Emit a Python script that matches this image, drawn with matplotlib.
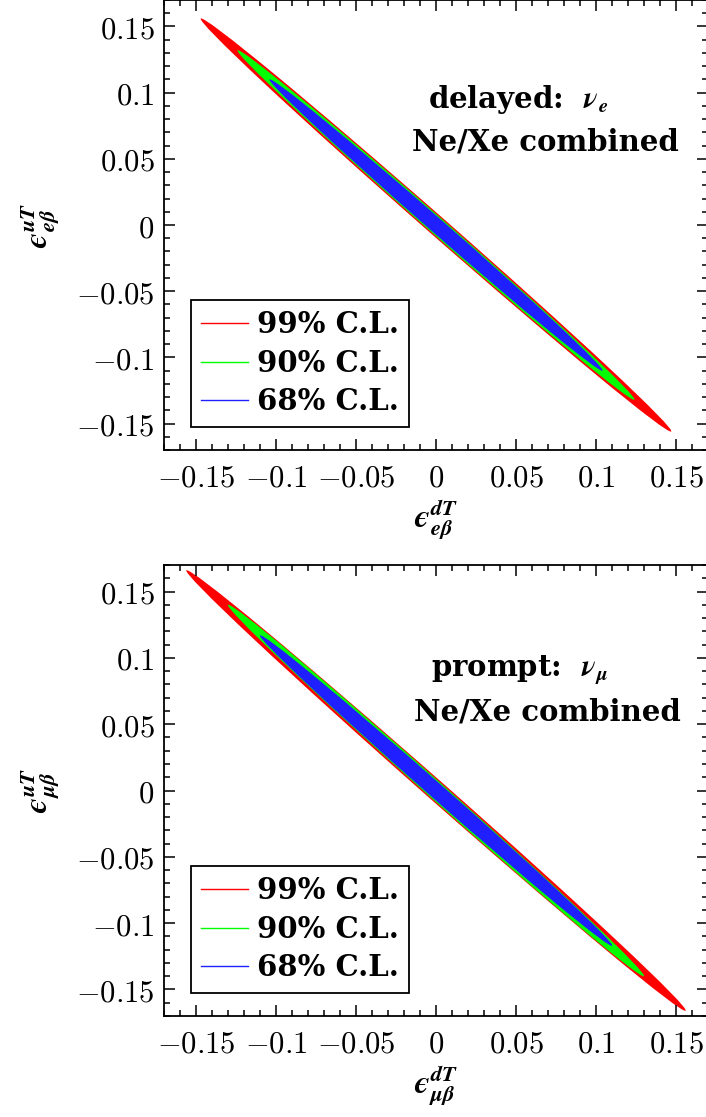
import numpy as np
import matplotlib
matplotlib.use('Agg')
from matplotlib import pyplot, ticker
from matplotlib.patches import Ellipse
from matplotlib.lines import Line2D

# confidence regions, outermost first
cl_labels = ['99% C.L.', '90% C.L.', '68% C.L.']
cl_colors = ['#ff0000', '#00ff00', '#1f1fff']

# delayed nu_e : lower-right tip of each region and vertical half-width at the origin
delayed_tip_dT = [0.147, 0.124, 0.104]
delayed_tip_uT = [-0.156, -0.132, -0.110]
delayed_halfwidth = [0.0097, 0.0085, 0.0073]

# prompt nu_mu
prompt_tip_dT = [0.156, 0.130, 0.110]
prompt_tip_uT = [-0.166, -0.140, -0.117]
prompt_halfwidth = [0.0100, 0.0088, 0.0076]

tick_values = [-0.15, -0.1, -0.05, 0, 0.05, 0.1, 0.15]

pyplot.rcParams['mathtext.fontset'] = 'cm'
pyplot.rcParams['font.family'] = ['DejaVu Serif']

TICKFS = 22
TEXTFS = 21


def region(tip_x, tip_y, h, color):
    # ellipse through the two tips, with the given vertical half-width at x=0
    a = np.hypot(tip_x, tip_y)
    theta = np.arctan2(tip_y, tip_x)
    b = np.cos(theta) / np.sqrt(1.0 / h**2 - np.sin(theta)**2 / a**2)
    return Ellipse((0, 0), 2 * a, 2 * b, angle=np.degrees(theta),
                   facecolor=color, edgecolor='none', linewidth=0)


def panel(ax, tips_x, tips_y, halfw, xlab, ylab, line1, line2, x1, x2, y1, y2):
    for tx, ty, h, col in zip(tips_x, tips_y, halfw, cl_colors):
        ax.add_patch(region(tx, ty, h, col))

    ax.set_xlim(-0.17, 0.17)
    ax.set_ylim(-0.17, 0.17)
    fmt = ticker.FuncFormatter(lambda v, pos: '$%g$' % v)
    ax.set_xticks(tick_values)
    ax.set_yticks(tick_values)
    ax.xaxis.set_major_formatter(fmt)
    ax.yaxis.set_major_formatter(fmt)
    ax.xaxis.set_minor_locator(ticker.MultipleLocator(0.01))
    ax.yaxis.set_minor_locator(ticker.MultipleLocator(0.01))
    ax.tick_params(which='both', direction='in', top=True, right=True,
                   width=1.1, labelsize=TICKFS)
    ax.tick_params(which='major', length=8)
    ax.tick_params(which='minor', length=4.5)
    ax.tick_params(axis='x', which='major', pad=9)
    ax.tick_params(axis='y', which='major', pad=7)
    for s in ax.spines.values():
        s.set_linewidth(1.3)

    ax.set_xlabel(xlab, fontsize=23)
    ax.set_ylabel(ylab, fontsize=23)
    ax.xaxis.set_label_coords(0.5, -0.105)
    ax.yaxis.set_label_coords(-0.19, 0.5)

    ax.text(x1, y1, line1, transform=ax.transAxes, fontsize=TEXTFS,
            fontweight='bold', ha='left', va='center')
    ax.text(x2, y2, line2, transform=ax.transAxes, fontsize=TEXTFS,
            fontweight='bold', ha='left', va='center')

    handles = [Line2D([], [], color=c, linewidth=1.0) for c in cl_colors]
    leg = ax.legend(handles, cl_labels, loc='lower left',
                    bbox_to_anchor=(0.05, 0.052), borderaxespad=0,
                    prop={'size': TEXTFS, 'weight': 'bold'},
                    handlelength=1.6, handletextpad=0.3,
                    labelspacing=0.33, borderpad=0.35, fancybox=False,
                    framealpha=1)
    leg.get_frame().set_edgecolor('black')
    leg.get_frame().set_linewidth(1.3)


fig = pyplot.figure(figsize=(7.06, 11.17), dpi=100)
ax1 = fig.add_axes([0.2323, 0.5971, 0.7705, 0.4029])
ax2 = fig.add_axes([0.2323, 0.0904, 0.7705, 0.4038])

panel(ax1, delayed_tip_dT, delayed_tip_uT, delayed_halfwidth,
      r'$\mathbfit{ϵ}^{\mathbfit{dT}}_{\mathbfit{e}\boldsymbol{\beta}}$',
      r'$\mathbfit{ϵ}^{\mathbfit{uT}}_{\mathbfit{e}\boldsymbol{\beta}}$',
      r'delayed:  $\boldsymbol{\nu}_{\boldsymbol{e}}$',
      'Ne/Xe combined', 0.485, 0.455, 0.78, 0.684)
panel(ax2, prompt_tip_dT, prompt_tip_uT, prompt_halfwidth,
      r'$\mathbfit{ϵ}^{\mathbfit{dT}}_{\boldsymbol{\mu\beta}}$',
      r'$\mathbfit{ϵ}^{\mathbfit{uT}}_{\boldsymbol{\mu\beta}}$',
      r'prompt:  $\boldsymbol{\nu}_{\boldsymbol{\mu}}$',
      'Ne/Xe combined', 0.49, 0.46, 0.768, 0.674)

fig.savefig('out.png', dpi=100)
